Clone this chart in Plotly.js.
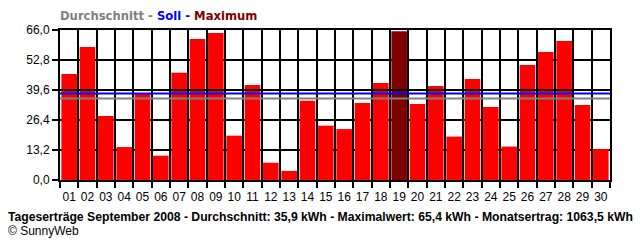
<!DOCTYPE html>
<html><head><meta charset="utf-8">
<script src="https://cdn.plot.ly/plotly-3.0.1.min.js"></script>
<style>html,body{margin:0;padding:0;background:#fff}#c{width:640px;height:240px}</style>
</head><body><div id="c"></div>
<script>
const days = ["01","02","03","04","05","06","07","08","09","10","11","12","13","14","15","16","17","18","19","20","21","22","23","24","25","26","27","28","29","30"];
const yields = [46.6,58.5,28.2,14.5,38.1,10.7,47.2,62.0,64.7,19.5,41.8,7.6,4.0,34.9,23.9,22.4,33.9,42.7,65.4,33.4,41.4,19.1,44.4,32.1,14.7,50.6,56.3,61.2,33.0,13.6];
const average = 35.9;
const target = 38.1;
const refLine = 39.6;
const yTicks = [0,13.2,26.4,39.6,52.8,66.0];
const yMax = 66.0;

const maxVal = Math.max(...yields);
const colors = yields.map(v => v === maxVal ? "#800000" : "#FF0000");

const data = [{
  type: "bar", x: days, y: yields,
  marker: {color: colors, line: {width: 0}},
  hoverinfo: "x+y"
}];

const layout = {
  width: 640, height: 240,
  margin: {l: 60, r: 30, t: 30, b: 60},
  paper_bgcolor: "#fff", plot_bgcolor: "#fff",
  separators: ",.",
  showlegend: false,
  bargap: 0.15,
  font: {family: "Liberation Sans, Arial, sans-serif", size: 12, color: "#000"},
  xaxis: {
    type: "category", tickson: "boundaries", tickangle: 0,
    ticks: "outside", ticklen: 6, tickwidth: 2, tickcolor: "#000",
    ticklabelstandoff: 5,
    showgrid: true, gridcolor: "#000", gridwidth: 2,
    showline: true, linecolor: "#000", linewidth: 2, mirror: true,
    tickfont: {size: 12, color: "#000"}, fixedrange: true
  },
  yaxis: {
    range: [0, yMax], tickvals: yTicks, tickformat: ".1f",
    ticks: "outside", ticklen: 6, tickwidth: 2, tickcolor: "#000",
    showgrid: true, gridcolor: "#000", gridwidth: 2, zeroline: false,
    showline: true, linecolor: "#000", linewidth: 2, mirror: true,
    tickfont: {size: 12, color: "#000"}, fixedrange: true
  },
  shapes: [
    {type: "line", xref: "paper", yref: "y", x0: 0, x1: 1, y0: refLine, y1: refLine, layer: "above", line: {color: "#000", width: 2}},
    {type: "line", xref: "paper", yref: "y", x0: 0, x1: 1, y0: target, y1: target, layer: "above", line: {color: "#0000FF", width: 2}},
    {type: "line", xref: "paper", yref: "y", x0: 0, x1: 1, y0: average, y1: average, layer: "above", line: {color: "#808080", width: 2}}
  ],
  annotations: [
    {xref: "paper", yref: "paper", x: -0.004, y: 1, xanchor: "left", yanchor: "bottom", yshift: 5, showarrow: false,
     font: {family: "DejaVu Sans, sans-serif", size: 11.6},
     text: "<b><span style='color:#808080'>Durchschnitt - </span><span style='color:#0000FF'>Soll - </span><span style='color:#800000'>Maximum</span></b>"},
    {xref: "paper", yref: "paper", x: -0.098, y: 0, xanchor: "left", yanchor: "top", yshift: -28, showarrow: false,
     font: {family: "Liberation Sans, Arial, sans-serif", size: 12.2, color: "#000"},
     text: "<b>Tageserträge September 2008 - Durchschnitt: 35,9 kWh - Maximalwert: 65,4 kWh - Monatsertrag: 1063,5 kWh</b>"},
    {xref: "paper", yref: "paper", x: -0.098, y: 0, xanchor: "left", yanchor: "top", yshift: -42, showarrow: false,
     font: {family: "Liberation Sans, Arial, sans-serif", size: 12, color: "#000"},
     text: "© SunnyWeb"}
  ]
};
Plotly.newPlot("c", data, layout, {displayModeBar: false, staticPlot: true});
</script></body></html>
